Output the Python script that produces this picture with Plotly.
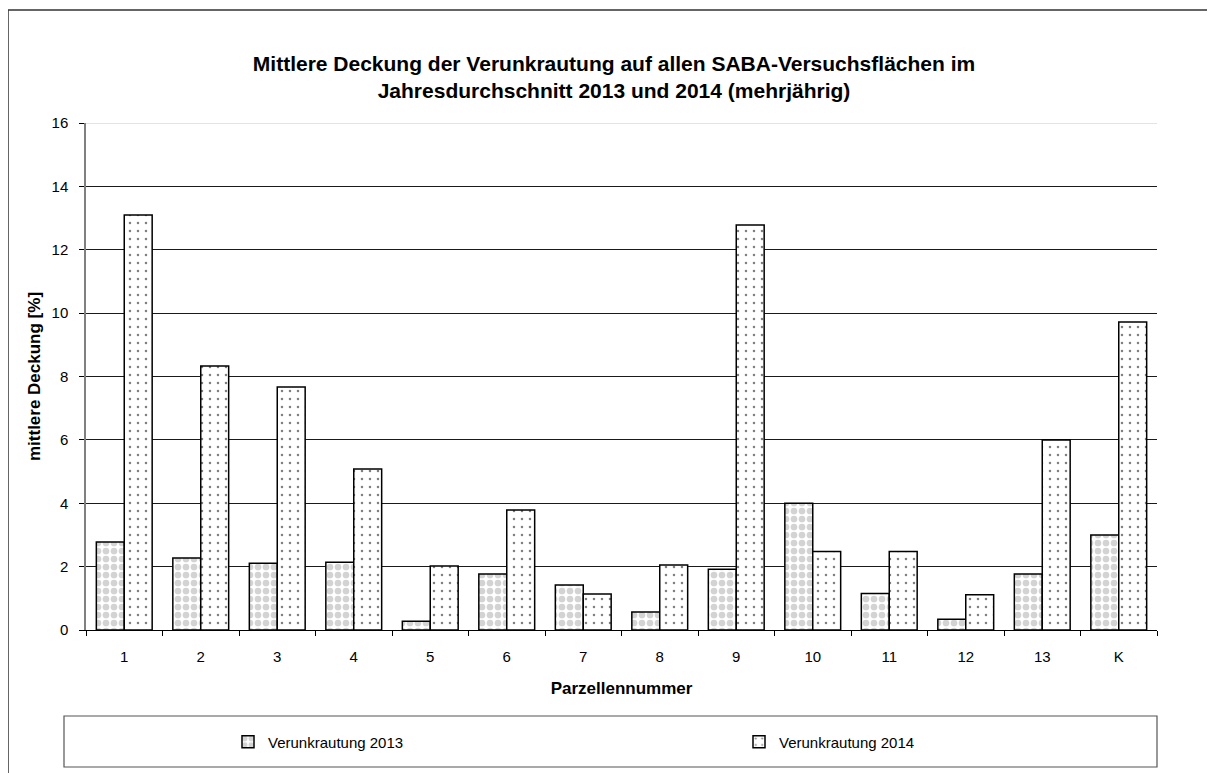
import plotly.graph_objects as go

categories = ["1", "2", "3", "4", "5", "6", "7", "8", "9", "10", "11", "12", "13", "K"]
values_2013 = [2.78, 2.27, 2.11, 2.14, 0.28, 1.77, 1.42, 0.57, 1.92, 4.0, 1.15, 0.34, 1.77, 3.0]
values_2014 = [13.1, 8.33, 7.67, 5.08, 2.02, 3.79, 1.14, 2.05, 12.78, 2.48, 2.48, 1.11, 6.0, 9.72]
series_names = ["Verunkrautung 2013", "Verunkrautung 2014"]
y_ticks = [0, 2, 4, 6, 8, 10, 12, 14, 16]

FONT = "Liberation Sans, Arial, sans-serif"
OFF = 8  # page body margin of the browser
W, H = 1215 - OFF, 773 - OFF
L, R, T, B = 86 - OFF, 1157 - OFF, 123 - OFF, 630 - OFF


def px_x(p):
    return (p - OFF - L) / (R - L)


def px_y(p):
    return (B - (p - OFF)) / (B - T)


fig = go.Figure()
fig.add_trace(go.Bar(
    x=categories, y=values_2013, name=series_names[0], legend="legend",
    marker=dict(color="white", line=dict(color="black", width=1.5),
                pattern=dict(shape=".", fgcolor="#a8a8a8", bgcolor="white",
                             size=8, solidity=0.55, fillmode="overlay")),
))
fig.add_trace(go.Bar(
    x=categories, y=values_2014, name=series_names[1], legend="legend2",
    marker=dict(color="white", line=dict(color="black", width=1.5),
                pattern=dict(shape=".", fgcolor="black", bgcolor="white",
                             size=8, solidity=0.08, fillmode="overlay")),
))

legend_common = dict(
    orientation="h", xanchor="left", xref="paper", yanchor="middle", yref="paper",
    font=dict(size=15, family=FONT), bgcolor="rgba(0,0,0,0)", borderwidth=0,
)

fig.update_layout(
    width=W, height=H,
    margin=dict(l=L, r=W - R, t=T, b=H - B, autoexpand=False),
    paper_bgcolor="white", plot_bgcolor="white",
    barmode="group", bargap=0.27, bargroupgap=0,
    font=dict(family=FONT, color="black", size=15),
    title=dict(
        text="<b>Mittlere Deckung der Verunkrautung auf allen SABA-Versuchsflächen im<br>Jahresdurchschnitt 2013 und 2014 (mehrjährig)</b>",
        x=(614 - OFF) / W, xanchor="center", xref="container",
        y=1 - (71 - OFF) / H, yanchor="middle", yref="container",
        font=dict(family=FONT, size=21, color="black"),
    ),
    xaxis=dict(
        type="category",
        showline=True, linecolor="black", linewidth=1,
        ticks="outside", ticklen=5, tickcolor="black", tickson="boundaries",
        ticklabelstandoff=13,
        tickfont=dict(size=15),
        title=dict(text="<b>Parzellennummer</b>", font=dict(size=17), standoff=18),
        showgrid=False,
    ),
    yaxis=dict(
        range=[0, 16], tickvals=y_ticks,
        showline=True, linecolor="#808080", linewidth=1.5,
        ticks="outside", ticklen=5, tickcolor="black",
        ticklabelstandoff=8,
        tickfont=dict(size=15),
        showgrid=True, gridcolor="#1a1a1a", gridwidth=1,
        zeroline=False,
        title=dict(text="<b>mittlere Deckung [%]</b>", font=dict(size=17), standoff=7),
    ),
    showlegend=True,
    legend=dict(legend_common, x=px_x(228), y=px_y(742)),
    legend2=dict(legend_common, x=px_x(739), y=px_y(742)),
    shapes=[
        dict(type="line", xref="paper", yref="y",
             x0=0, x1=1, y0=y_ticks[-1], y1=y_ticks[-1],
             line=dict(color="#c8c8c8", width=1)),
        dict(type="rect", xref="paper", yref="paper",
             x0=px_x(8), x1=px_x(1240), y0=px_y(800), y1=px_y(10),
             line=dict(color="#333", width=1.5), fillcolor="rgba(0,0,0,0)", layer="below"),
        dict(type="rect", xref="paper", yref="paper",
             x0=px_x(64), x1=px_x(1157), y0=px_y(767), y1=px_y(716),
             line=dict(color="#555", width=1.2), fillcolor="rgba(0,0,0,0)", layer="below"),
    ],
)

fig.write_html("out.html")
